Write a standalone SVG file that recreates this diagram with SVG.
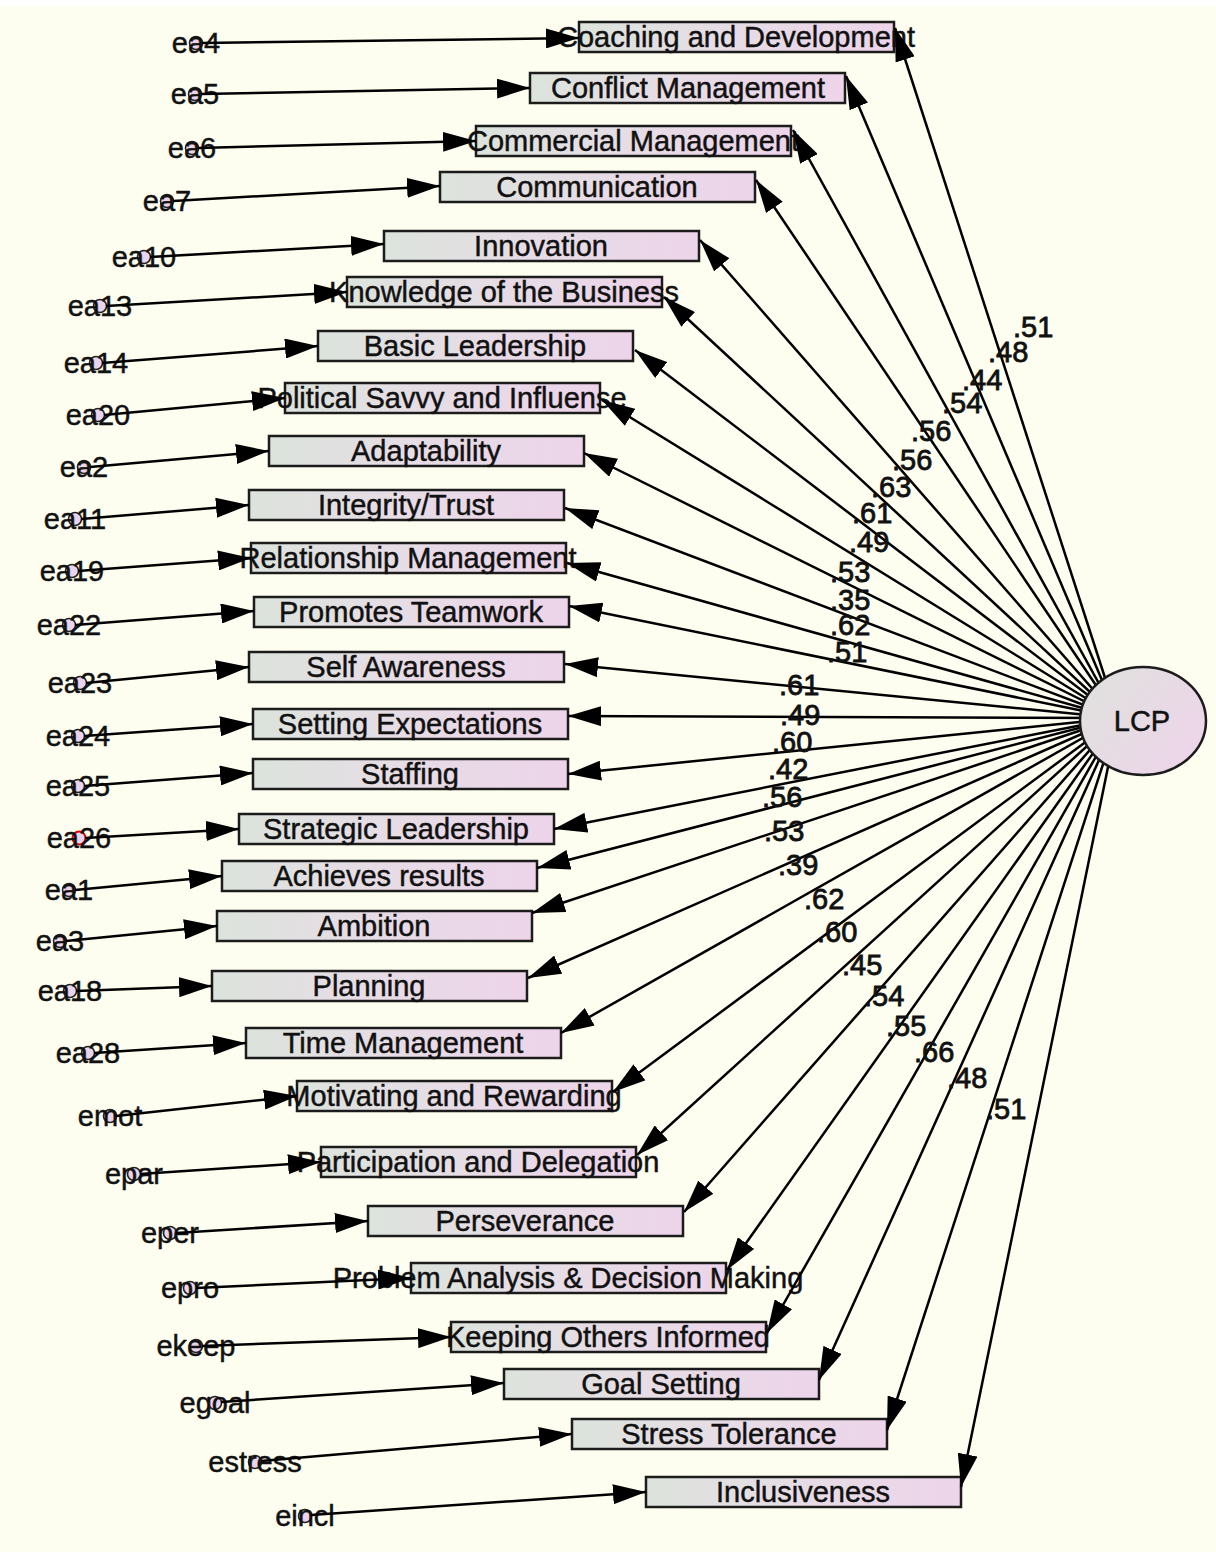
<svg xmlns="http://www.w3.org/2000/svg" width="1216" height="1552" viewBox="0 0 1216 1552">
  <defs>
    <linearGradient id="boxFill" x1="0" y1="0" x2="1" y2="0">
      <stop offset="0" stop-color="#dce3dc"/>
      <stop offset="0.45" stop-color="#e6dde5"/>
      <stop offset="1" stop-color="#edd4ea"/>
    </linearGradient>
    <linearGradient id="ovalFill" x1="0" y1="0.2" x2="1" y2="0.8">
      <stop offset="0" stop-color="#e0e1de"/>
      <stop offset="1" stop-color="#eed4ea"/>
    </linearGradient>
    <marker id="arr" viewBox="0 0 33 20" refX="33" refY="10" markerWidth="33" markerHeight="20" markerUnits="userSpaceOnUse" orient="auto">
      <path d="M0,0 L33,10 L0,20 Z" fill="#000"/>
    </marker>
  </defs>
  <style>
    .bg { fill: #fdfdf0; }
    .box { fill: url(#boxFill); stroke: #1c1c1c; stroke-width: 2.5; }
    .t { font-family: "Liberation Sans", Arial, sans-serif; font-size: 29px; fill: #111; stroke: #111; stroke-width: 0.45; }
    .c { text-anchor: middle; }
    .err circle { fill: #ecd3ec; stroke: #222; stroke-width: 1.6; }
    .err circle.hl { stroke: #e00000; stroke-width: 2; }
    .conn line { stroke: #000; stroke-width: 2.5; fill: none; marker-end: url(#arr); }
    .oval { fill: url(#ovalFill); stroke: #1c1c1c; stroke-width: 2.5; }
    .coef { stroke-width: 0.8; }
  </style>

  <rect class="bg" x="0" y="0" width="1216" height="1552"/>
  <rect x="0" y="0" width="1216" height="6" fill="#ffffff"/>

  <!-- observed indicators -->
  <g id="n-coaching"><rect class="box" x="579" y="22" width="315" height="30"/><text class="t c" x="736" y="47">Coaching and Development</text></g>
  <g id="n-conflict"><rect class="box" x="530" y="73" width="315" height="30"/><text class="t c" x="688" y="98">Conflict Management</text></g>
  <g id="n-commercial"><rect class="box" x="476" y="126" width="315" height="30"/><text class="t c" x="633" y="151">Commercial Management</text></g>
  <g id="n-communication"><rect class="box" x="440" y="172" width="315" height="30"/><text class="t c" x="597" y="197">Communication</text></g>
  <g id="n-innovation"><rect class="box" x="384" y="231" width="315" height="30"/><text class="t c" x="541" y="256">Innovation</text></g>
  <g id="n-knowledge"><rect class="box" x="347" y="277" width="315" height="30"/><text class="t c" x="504" y="302">Knowledge of the Business</text></g>
  <g id="n-basic"><rect class="box" x="318" y="331" width="315" height="30"/><text class="t c" x="475" y="356">Basic Leadership</text></g>
  <g id="n-political"><rect class="box" x="285" y="383" width="315" height="30"/><text class="t c" x="442" y="408">Political Savvy and Influense</text></g>
  <g id="n-adaptability"><rect class="box" x="269" y="436" width="315" height="30"/><text class="t c" x="426" y="461">Adaptability</text></g>
  <g id="n-integrity"><rect class="box" x="249" y="490" width="315" height="30"/><text class="t c" x="406" y="515">Integrity/Trust</text></g>
  <g id="n-relationship"><rect class="box" x="251" y="543" width="315" height="30"/><text class="t c" x="408" y="568">Relationship Management</text></g>
  <g id="n-teamwork"><rect class="box" x="254" y="597" width="315" height="30"/><text class="t c" x="411" y="622">Promotes Teamwork</text></g>
  <g id="n-selfaware"><rect class="box" x="249" y="652" width="315" height="30"/><text class="t c" x="406" y="677">Self Awareness</text></g>
  <g id="n-expectations"><rect class="box" x="253" y="709" width="315" height="30"/><text class="t c" x="410" y="734">Setting Expectations</text></g>
  <g id="n-staffing"><rect class="box" x="253" y="759" width="315" height="30"/><text class="t c" x="410" y="784">Staffing</text></g>
  <g id="n-strategic"><rect class="box" x="239" y="814" width="315" height="30"/><text class="t c" x="396" y="839">Strategic Leadership</text></g>
  <g id="n-achieves"><rect class="box" x="222" y="861" width="315" height="30"/><text class="t c" x="379" y="886">Achieves results</text></g>
  <g id="n-ambition"><rect class="box" x="217" y="911" width="315" height="30"/><text class="t c" x="374" y="936">Ambition</text></g>
  <g id="n-planning"><rect class="box" x="212" y="971" width="315" height="30"/><text class="t c" x="369" y="996">Planning</text></g>
  <g id="n-time"><rect class="box" x="246" y="1028" width="315" height="30"/><text class="t c" x="403" y="1053">Time Management</text></g>
  <g id="n-motivating"><rect class="box" x="297" y="1081" width="315" height="30"/><text class="t c" x="454" y="1106">Motivating and Rewarding</text></g>
  <g id="n-participation"><rect class="box" x="321" y="1147" width="315" height="30"/><text class="t c" x="478" y="1172">Participation and Delegation</text></g>
  <g id="n-perseverance"><rect class="box" x="368" y="1206" width="315" height="30"/><text class="t c" x="525" y="1231">Perseverance</text></g>
  <g id="n-problem"><rect class="box" x="411" y="1263" width="315" height="30"/><text class="t c" x="568" y="1288">Problem Analysis &amp; Decision Making</text></g>
  <g id="n-keeping"><rect class="box" x="451" y="1322" width="315" height="30"/><text class="t c" x="608" y="1347">Keeping Others Informed</text></g>
  <g id="n-goal"><rect class="box" x="504" y="1369" width="315" height="30"/><text class="t c" x="661" y="1394">Goal Setting</text></g>
  <g id="n-stress"><rect class="box" x="572" y="1419" width="315" height="30"/><text class="t c" x="729" y="1444">Stress Tolerance</text></g>
  <g id="n-inclusive"><rect class="box" x="646" y="1477" width="315" height="30"/><text class="t c" x="803" y="1502">Inclusiveness</text></g>

  <!-- unique error terms -->
  <g id="e-a4" class="err"><circle cx="196" cy="43" r="6.5"/><text class="t c" x="196" y="53">ea4</text></g>
  <g id="e-a5" class="err"><circle cx="195" cy="94" r="6.5"/><text class="t c" x="195" y="104">ea5</text></g>
  <g id="e-a6" class="err"><circle cx="192" cy="148" r="6.5"/><text class="t c" x="192" y="158">ea6</text></g>
  <g id="e-a7" class="err"><circle cx="167" cy="201" r="6.5"/><text class="t c" x="167" y="211">ea7</text></g>
  <g id="e-a10" class="err"><circle cx="144" cy="257" r="6.5"/><text class="t c" x="144" y="267">ea10</text></g>
  <g id="e-a13" class="err"><circle cx="100" cy="306" r="6.5"/><text class="t c" x="100" y="316">ea13</text></g>
  <g id="e-a14" class="err"><circle cx="96" cy="363" r="6.5"/><text class="t c" x="96" y="373">ea14</text></g>
  <g id="e-a20" class="err"><circle cx="98" cy="415" r="6.5"/><text class="t c" x="98" y="425">ea20</text></g>
  <g id="e-a2" class="err"><circle cx="84" cy="467" r="6.5"/><text class="t c" x="84" y="477">ea2</text></g>
  <g id="e-a11" class="err"><circle cx="75" cy="519" r="6.5"/><text class="t c" x="75" y="529">ea11</text></g>
  <g id="e-a19" class="err"><circle cx="72" cy="571" r="6.5"/><text class="t c" x="72" y="581">ea19</text></g>
  <g id="e-a22" class="err"><circle cx="69" cy="625" r="6.5"/><text class="t c" x="69" y="635">ea22</text></g>
  <g id="e-a23" class="err"><circle cx="80" cy="683" r="6.5"/><text class="t c" x="80" y="693">ea23</text></g>
  <g id="e-a24" class="err"><circle cx="78" cy="736" r="6.5"/><text class="t c" x="78" y="746">ea24</text></g>
  <g id="e-a25" class="err"><circle cx="78" cy="786" r="6.5"/><text class="t c" x="78" y="796">ea25</text></g>
  <g id="e-a26" class="err"><circle class="hl" cx="79" cy="838" r="6.5"/><text class="t c" x="79" y="848">ea26</text></g>
  <g id="e-a1" class="err"><circle cx="69" cy="890" r="6.5"/><text class="t c" x="69" y="900">ea1</text></g>
  <g id="e-a3" class="err"><circle cx="60" cy="941" r="6.5"/><text class="t c" x="60" y="951">ea3</text></g>
  <g id="e-a18" class="err"><circle cx="70" cy="991" r="6.5"/><text class="t c" x="70" y="1001">ea18</text></g>
  <g id="e-a28" class="err"><circle cx="88" cy="1053" r="6.5"/><text class="t c" x="88" y="1063">ea28</text></g>
  <g id="e-mot" class="err"><circle cx="110" cy="1116" r="6.5"/><text class="t c" x="110" y="1126">emot</text></g>
  <g id="e-par" class="err"><circle cx="134" cy="1174" r="6.5"/><text class="t c" x="134" y="1184">epar</text></g>
  <g id="e-per" class="err"><circle cx="170" cy="1233" r="6.5"/><text class="t c" x="170" y="1243">eper</text></g>
  <g id="e-pro" class="err"><circle cx="190" cy="1288" r="6.5"/><text class="t c" x="190" y="1298">epro</text></g>
  <g id="e-keep" class="err"><circle cx="196" cy="1346" r="6.5"/><text class="t c" x="196" y="1356">ekeep</text></g>
  <g id="e-goal" class="err"><circle cx="215" cy="1403" r="6.5"/><text class="t c" x="215" y="1413">egoal</text></g>
  <g id="e-stress" class="err"><circle cx="255" cy="1462" r="6.5"/><text class="t c" x="255" y="1472">estress</text></g>
  <g id="e-incl" class="err"><circle cx="305" cy="1516" r="6.5"/><text class="t c" x="305" y="1526">eincl</text></g>

  <g id="connectors" class="conn">
    <!-- error terms to indicators -->
    <line x1="202" y1="43" x2="579" y2="38"/>
    <line x1="201" y1="94" x2="530" y2="88"/>
    <line x1="198" y1="148" x2="476" y2="141"/>
    <line x1="173" y1="201" x2="440" y2="186"/>
    <line x1="150" y1="257" x2="384" y2="244"/>
    <line x1="106" y1="306" x2="347" y2="292"/>
    <line x1="102" y1="363" x2="318" y2="346"/>
    <line x1="104" y1="415" x2="285" y2="398"/>
    <line x1="90" y1="467" x2="269" y2="451"/>
    <line x1="81" y1="519" x2="249" y2="505"/>
    <line x1="78" y1="571" x2="251" y2="558"/>
    <line x1="75" y1="625" x2="254" y2="611"/>
    <line x1="86" y1="683" x2="249" y2="667"/>
    <line x1="84" y1="736" x2="253" y2="724"/>
    <line x1="84" y1="786" x2="253" y2="773"/>
    <line x1="85" y1="838" x2="239" y2="829"/>
    <line x1="75" y1="890" x2="222" y2="876"/>
    <line x1="66" y1="941" x2="217" y2="926"/>
    <line x1="76" y1="991" x2="212" y2="986"/>
    <line x1="94" y1="1053" x2="246" y2="1043"/>
    <line x1="116" y1="1116" x2="297" y2="1096"/>
    <line x1="140" y1="1174" x2="321" y2="1162"/>
    <line x1="176" y1="1233" x2="368" y2="1221"/>
    <line x1="196" y1="1288" x2="411" y2="1278"/>
    <line x1="202" y1="1346" x2="451" y2="1337"/>
    <line x1="221" y1="1402" x2="504" y2="1383"/>
    <line x1="261" y1="1461" x2="572" y2="1434"/>
    <line x1="311" y1="1515" x2="646" y2="1492"/>
    <!-- factor loadings from LCP -->
    <line x1="1118" y1="718" x2="895" y2="28"/>
    <line x1="1118" y1="718" x2="846" y2="76"/>
    <line x1="1118" y1="718" x2="793" y2="130"/>
    <line x1="1118" y1="718" x2="756" y2="180"/>
    <line x1="1118" y1="718" x2="700" y2="240"/>
    <line x1="1118" y1="718" x2="664" y2="297"/>
    <line x1="1118" y1="718" x2="635" y2="350"/>
    <line x1="1118" y1="718" x2="602" y2="400"/>
    <line x1="1118" y1="718" x2="584" y2="453"/>
    <line x1="1118" y1="718" x2="565" y2="508"/>
    <line x1="1118" y1="718" x2="567" y2="563"/>
    <line x1="1118" y1="718" x2="569" y2="606"/>
    <line x1="1118" y1="718" x2="565" y2="664"/>
    <line x1="1118" y1="718" x2="568" y2="716"/>
    <line x1="1118" y1="718" x2="568" y2="774"/>
    <line x1="1118" y1="718" x2="554" y2="829"/>
    <line x1="1118" y1="718" x2="537" y2="868"/>
    <line x1="1118" y1="718" x2="532" y2="913"/>
    <line x1="1118" y1="718" x2="528" y2="978"/>
    <line x1="1118" y1="718" x2="561" y2="1033"/>
    <line x1="1118" y1="718" x2="613" y2="1092"/>
    <line x1="1118" y1="718" x2="637" y2="1155"/>
    <line x1="1118" y1="718" x2="684" y2="1212"/>
    <line x1="1118" y1="718" x2="727" y2="1270"/>
    <line x1="1118" y1="718" x2="767" y2="1333"/>
    <line x1="1118" y1="718" x2="819" y2="1380"/>
    <line x1="1118" y1="718" x2="887" y2="1430"/>
    <line x1="1118" y1="718" x2="961" y2="1487"/>
  </g>

  <!-- latent factor -->
  <g id="n-lcp">
    <ellipse class="oval" cx="1143" cy="721" rx="63" ry="54"/>
    <text class="t c" x="1142" y="731">LCP</text>
  </g>

  <!-- standardized loadings -->
  <g id="loadings" class="t coef">
    <text x="1013" y="337">.51</text>
    <text x="988" y="362">.48</text>
    <text x="962" y="390">.44</text>
    <text x="942" y="413">.54</text>
    <text x="911" y="441">.56</text>
    <text x="892" y="470">.56</text>
    <text x="871" y="497">.63</text>
    <text x="852" y="523">.61</text>
    <text x="849" y="552">.49</text>
    <text x="830" y="582">.53</text>
    <text x="830" y="610">.35</text>
    <text x="830" y="635">.62</text>
    <text x="827" y="662">.51</text>
    <text x="779" y="695">.61</text>
    <text x="780" y="725">.49</text>
    <text x="772" y="752">.60</text>
    <text x="768" y="779">.42</text>
    <text x="762" y="807">.56</text>
    <text x="764" y="841">.53</text>
    <text x="778" y="875">.39</text>
    <text x="804" y="909">.62</text>
    <text x="817" y="942">.60</text>
    <text x="842" y="975">.45</text>
    <text x="864" y="1006">.54</text>
    <text x="886" y="1036">.55</text>
    <text x="914" y="1062">.66</text>
    <text x="947" y="1088">.48</text>
    <text x="986" y="1119">.51</text>
  </g>
</svg>
